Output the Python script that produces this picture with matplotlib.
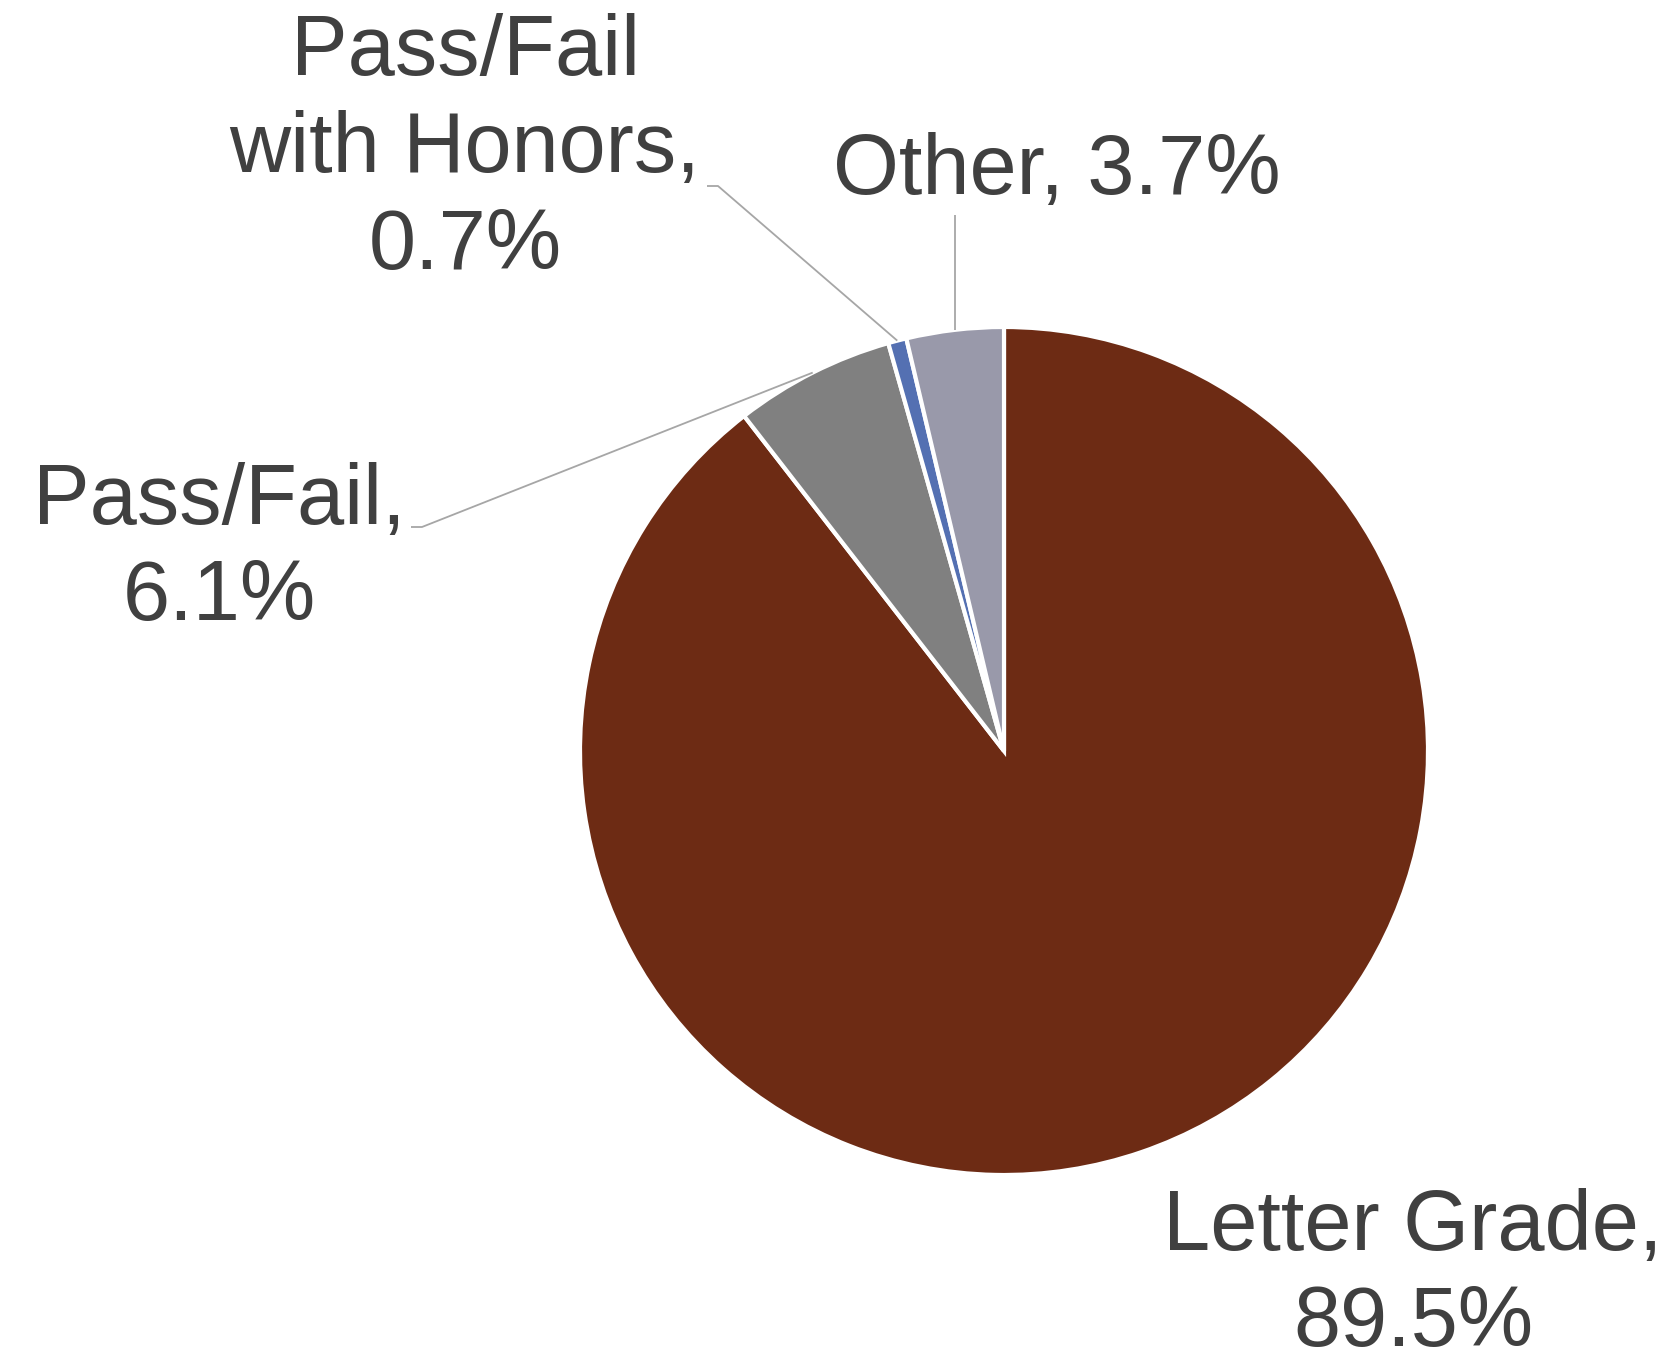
import numpy as np
import matplotlib
matplotlib.use('Agg')
import matplotlib.pyplot as plt

# Grading basis shares (percent).
categories = ['Letter Grade', 'Pass/Fail', 'Pass/Fail\nwith Honors', 'Other']
shares = [89.5, 6.1, 0.7, 3.7]
colors = ['#6D2B14', '#808080', '#5470B2', '#9999AA']

W, H = 1676, 1359


def px(x, y):
    """Pixel position (top-left origin) to data coords."""
    return x, H - y


plt.rcParams['font.family'] = ['Liberation Sans', 'DejaVu Sans']

fig = plt.figure(figsize=(W / 100, H / 100), dpi=100)
ax = fig.add_axes([0, 0, 1, 1])

cx, cy = px(1004, 751)
radius = 424
wedges, _ = ax.pie(shares, colors=colors, startangle=90, counterclock=False,
                   center=(cx, cy), radius=radius, frame=True,
                   wedgeprops=dict(edgecolor='white', linewidth=3))

ax.set_xlim(0, W)
ax.set_ylim(0, H)
ax.set_aspect('equal')
ax.axis('off')


def edge_point(wedge):
    ang = np.deg2rad((wedge.theta1 + wedge.theta2) / 2)
    return cx + radius * np.cos(ang), cy + radius * np.sin(ang)


text_kw = dict(fontsize=61, color='#404040', ha='center', va='center',
               linespacing=1.27)
line_kw = dict(color='#A6A6A6', linewidth=1.3, solid_capstyle='butt')

# Labels
ax.text(*px(1413, 1276), f'{categories[0]},\n{shares[0]}%', **text_kw)
ax.text(*px(219, 550), f'{categories[1]},\n{shares[1]}%', **text_kw)
ax.text(*px(465, 150), f'{categories[2]},\n{shares[2]}%', **text_kw)
ax.text(*px(1057, 172), f'{categories[3]}, {shares[3]}%', **text_kw)

# Leader lines
x1, y1 = edge_point(wedges[1])
ax.plot([px(411, 527)[0], px(422, 527)[0], x1],
        [px(411, 527)[1], px(422, 527)[1], y1], **line_kw)
x2, y2 = edge_point(wedges[2])
ax.plot([px(707, 186)[0], px(718, 186)[0], x2],
        [px(707, 186)[1], px(718, 186)[1], y2], **line_kw)
x3, y3 = edge_point(wedges[3])
ax.plot([x3, x3], [px(0, 215)[1], y3], **line_kw)

fig.savefig('out.png', dpi=100, facecolor='white')
